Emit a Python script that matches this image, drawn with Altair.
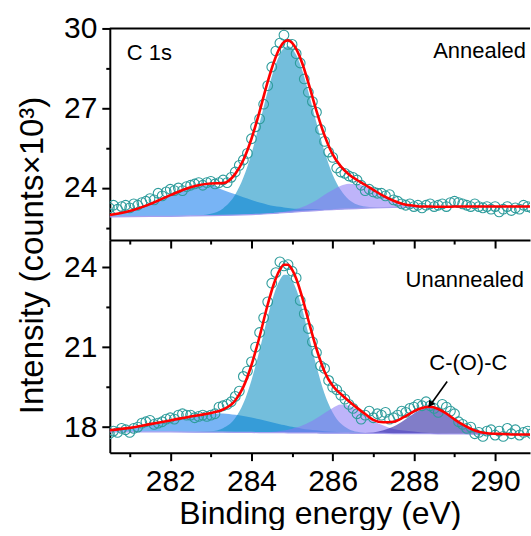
import altair as alt
import pandas as pd

# ---------------- data ----------------
X_GRID = [280.5, 281.0, 281.5, 282.0, 282.5, 283.0, 283.3, 283.6, 283.8, 284.0,
          284.2, 284.4, 284.55, 284.7, 284.8, 284.9, 285.0, 285.1, 285.25, 285.4,
          285.6, 285.8, 286.0, 286.2, 286.4, 286.6, 286.8, 287.0, 287.25, 287.5,
          287.75, 288.0, 288.2, 288.4, 288.6, 288.8, 289.0, 289.25, 289.5, 289.8,
          290.2, 290.6, 291.0]

# Annealed (top panel): background and component heights above background
TOP_BG = [22.91, 22.92, 22.93, 22.93, 22.95, 22.96, 22.97, 22.98, 22.99, 23.00,
          23.01, 23.03, 23.04, 23.06, 23.07, 23.08, 23.09, 23.10, 23.12, 23.13,
          23.15, 23.17, 23.18, 23.20, 23.21, 23.22, 23.24, 23.25, 23.26, 23.27,
          23.27, 23.28, 23.28, 23.29, 23.29, 23.29, 23.30, 23.30, 23.30, 23.30,
          23.30, 23.30, 23.30]
TOP_A = [0.07, 0.21, 0.46, 0.80, 1.08, 1.14, 0.95, 0.78, 0.66, 0.55,
         0.44, 0.34, 0.28, 0.23, 0.195, 0.165, 0.14, 0.12, 0.095, 0.075,
         0.05, 0.03, 0.02, 0.01, 0, 0, 0, 0, 0, 0,
         0, 0, 0, 0, 0, 0, 0, 0, 0, 0,
         0, 0, 0]
TOP_M = [0, 0, 0, 0, 0, 0.07, 0.26, 0.77, 1.40, 2.30,
         3.43, 4.62, 5.40, 5.97, 6.19, 6.25, 6.16, 5.91, 5.31, 4.50,
         3.31, 2.20, 1.32, 0.72, 0.35, 0.16, 0.06, 0.02, 0, 0,
         0, 0, 0, 0, 0, 0, 0, 0, 0, 0,
         0, 0, 0]
TOP_C = [0, 0, 0, 0, 0, 0, 0, 0, 0, 0,
         0, 0.01, 0.01, 0.02, 0.03, 0.05, 0.07, 0.10, 0.16, 0.25,
         0.39, 0.57, 0.74, 0.88, 0.95, 0.92, 0.82, 0.66, 0.44, 0.25,
         0.12, 0.05, 0.02, 0.01, 0, 0, 0, 0, 0, 0,
         0, 0, 0]
TOP_FIT = [22.98, 23.13, 23.39, 23.73, 24.03, 24.17, 24.18, 24.53, 25.05, 25.85,
           26.88, 28.00, 28.73, 29.28, 29.49, 29.55, 29.46, 29.23, 28.69, 27.96,
           26.90, 25.97, 25.26, 24.81, 24.51, 24.30, 24.12, 23.93, 23.70, 23.52,
           23.39, 23.33, 23.30, 23.30, 23.29, 23.29, 23.30, 23.30, 23.30, 23.30,
           23.30, 23.30, 23.30]

# Unannealed (bottom panel)
BOT_BG = [17.82, 17.82, 17.82, 17.82, 17.81, 17.81, 17.81, 17.80, 17.80, 17.80,
          17.79, 17.79, 17.79, 17.79, 17.79, 17.78, 17.78, 17.78, 17.78, 17.78,
          17.78, 17.77, 17.77, 17.77, 17.77, 17.76, 17.76, 17.76, 17.76, 17.75,
          17.75, 17.75, 17.75, 17.75, 17.74, 17.74, 17.74, 17.74, 17.73, 17.73,
          17.73, 17.72, 17.72]
BOT_A = [0.06, 0.15, 0.29, 0.43, 0.59, 0.69, 0.70, 0.66, 0.62, 0.56,
         0.50, 0.43, 0.37, 0.32, 0.29, 0.26, 0.23, 0.20, 0.16, 0.13,
         0.10, 0.07, 0.05, 0.03, 0.02, 0.01, 0.01, 0, 0, 0,
         0, 0, 0, 0, 0, 0, 0, 0, 0, 0,
         0, 0, 0]
BOT_M = [0, 0, 0, 0, 0, 0.03, 0.15, 0.54, 1.09, 1.96,
         3.10, 4.36, 5.18, 5.74, 5.93, 5.93, 5.74, 5.40, 4.65, 3.73,
         2.51, 1.48, 0.78, 0.36, 0.15, 0.06, 0.02, 0, 0, 0,
         0, 0, 0, 0, 0, 0, 0, 0, 0, 0,
         0, 0, 0]
BOT_C = [0, 0, 0, 0, 0, 0, 0, 0, 0, 0.01,
         0.01, 0.02, 0.03, 0.06, 0.08, 0.12, 0.16, 0.20, 0.28, 0.38,
         0.55, 0.76, 0.95, 1.08, 1.03, 0.88, 0.68, 0.47, 0.30, 0.18,
         0.12, 0.08, 0.05, 0.03, 0.02, 0.01, 0, 0, 0, 0,
         0, 0, 0]
BOT_D = [0, 0, 0, 0, 0, 0, 0, 0, 0, 0,
         0, 0, 0, 0, 0, 0, 0, 0, 0, 0,
         0, 0, 0, 0, 0, 0.01, 0.02, 0.04, 0.12, 0.27,
         0.50, 0.76, 0.92, 0.98, 0.92, 0.76, 0.55, 0.31, 0.14, 0.04,
         0.01, 0, 0]
BOT_FIT = [17.88, 17.97, 18.11, 18.25, 18.40, 18.53, 18.66, 19.00, 19.51, 20.33,
           21.40, 22.60, 23.37, 23.91, 24.09, 24.09, 23.91, 23.58, 22.87, 22.02,
           20.94, 20.08, 19.55, 19.24, 18.97, 18.72, 18.49, 18.27, 18.18, 18.20,
           18.37, 18.59, 18.72, 18.76, 18.68, 18.51, 18.29, 18.05, 17.87, 17.77,
           17.74, 17.72, 17.72]

# measured points (open circles)
X_DATA = [280.5, 280.6, 280.7, 280.8, 280.9, 281.0, 281.1, 281.2, 281.3, 281.4,
          281.5, 281.6, 281.7, 281.8, 281.9, 282.0, 282.1, 282.2, 282.3, 282.4,
          282.5, 282.6, 282.7, 282.8, 282.9, 283.0, 283.1, 283.2, 283.3, 283.4,
          283.5, 283.6, 283.7, 283.8, 283.9, 284.0, 284.1, 284.2, 284.3, 284.4,
          284.5, 284.6, 284.7, 284.8, 284.9, 285.0, 285.1, 285.2, 285.3, 285.4,
          285.5, 285.6, 285.7, 285.8, 285.9, 286.0, 286.1, 286.2, 286.3, 286.4,
          286.5, 286.6, 286.7, 286.8, 286.9, 287.0, 287.1, 287.2, 287.3, 287.4,
          287.5, 287.6, 287.7, 287.8, 287.9, 288.0, 288.1, 288.2, 288.3, 288.4,
          288.5, 288.6, 288.7, 288.8, 288.9, 289.0, 289.1, 289.2, 289.3, 289.4,
          289.5, 289.6, 289.7, 289.8, 289.9, 290.0, 290.1, 290.2, 290.3, 290.4,
          290.5, 290.6, 290.7, 290.8, 290.9]
TOP_DATA = [23.25, 23.35, 23.20, 23.30, 23.35, 23.25, 23.40, 23.35, 23.45, 23.50,
            23.60, 23.55, 23.80, 23.70, 23.85, 23.95, 23.90, 24.00, 23.90, 24.05,
            24.10, 24.15, 24.20, 24.10, 24.20, 24.25, 24.15, 24.20, 24.30, 24.20,
            24.40, 24.60, 24.85, 25.05, 25.30, 25.85, 26.30, 26.60, 27.15, 27.85,
            28.55, 29.15, 29.45, 29.75, 29.40, 29.40, 29.05, 28.70, 28.10, 27.60,
            27.25, 26.85, 26.20, 25.75, 25.35, 25.15, 24.75, 24.60, 24.55, 24.45,
            24.40, 24.30, 24.10, 23.90, 23.95, 23.85, 23.80, 23.80, 23.70, 23.75,
            23.55, 23.50, 23.40, 23.35, 23.40, 23.30, 23.35, 23.25, 23.35, 23.40,
            23.30, 23.35, 23.40, 23.30, 23.45, 23.50, 23.45, 23.40, 23.35, 23.30,
            23.40, 23.30, 23.25, 23.30, 23.20, 23.30, 23.10, 23.20, 23.30, 23.15,
            23.25, 23.20, 23.35, 23.30, 23.25]
BOT_DATA = [17.75, 17.85, 17.80, 17.95, 17.90, 17.80, 17.95, 18.00, 18.15, 18.20,
            18.25, 18.10, 18.15, 18.20, 18.30, 18.35, 18.30, 18.45, 18.50, 18.45,
            18.45, 18.35, 18.40, 18.45, 18.40, 18.45, 18.50, 18.75, 18.80, 18.85,
            18.95, 19.15, 19.35, 19.90, 20.10, 20.45, 21.00, 21.55, 22.10, 22.70,
            23.40, 23.80, 24.20, 24.05, 24.10, 23.85, 23.60, 22.75, 22.25, 21.70,
            21.20, 20.80, 20.30, 20.20, 19.75, 19.50, 19.40, 19.20, 19.05, 18.85,
            18.70, 18.50, 18.30, 18.45, 18.60, 18.35, 18.50, 18.45, 18.55, 18.30,
            18.35, 18.45, 18.60, 18.55, 18.70, 18.75, 18.85, 18.80, 18.95, 18.80,
            18.70, 18.55, 18.85, 18.75, 18.60, 18.50, 18.20, 18.10, 17.95, 18.00,
            17.75, 17.80, 17.65, 17.85, 17.90, 17.70, 17.85, 17.65, 17.95, 17.75,
            17.90, 17.70, 17.80, 17.85, 17.75]

TOP_TEXT = ["C 1s", "Annealed"]
TOP_TEXT_X = [280.93, 290.76]
TOP_TEXT_Y = [29.09, 29.16]
BOT_TEXT = ["Unannealed", "C-(O)-C"]
BOT_TEXT_X = [290.71, 289.34]
BOT_TEXT_Y = [23.53, 20.41]
ARROW_X = [288.82, 288.40]
ARROW_Y = [19.71, 18.82]
ARROW_HEAD_X = [288.42]
ARROW_HEAD_Y = [18.88]

X_TICKS = [281, 282, 283, 284, 285, 286, 287, 288, 289, 290]
TOP_Y_TICKS = [22.5, 24, 25.5, 27, 28.5, 30]
BOT_Y_TICKS = [18, 19.5, 21, 22.5, 24]
X_DOMAIN = [280.51, 290.86]
TOP_Y_DOMAIN = [22.04, 30.0]
BOT_Y_DOMAIN = [17.04, 25.02]

# ---------------- styling ----------------
FONT = "Liberation Sans"
W = 421
H_TOP = 212
H_BOT = 213
FILL_OPACITY = 0.55
COL_A = "#0A77ED"
COL_M = "#0089BF"
COL_C = "#8977F6"
COL_D = "#1A129B"
COL_PTS = "#2E9C9C"

X_TICK_SIZE = {"condition": {"test": "datum.value % 2 === 0", "value": 8}, "value": 4}
Y_TICK_SIZE = {"condition": {"test": "datum.value % 3 === 0", "value": 8}, "value": 4}

x_scale = alt.Scale(domain=X_DOMAIN, nice=False, zero=False)

top_x_axis = alt.Axis(values=X_TICKS, labels=False, title=None, tickSize=X_TICK_SIZE)
bot_x_axis = alt.Axis(values=X_TICKS, labelExpr="datum.value % 2 === 0 ? datum.label : ''",
                      tickSize=X_TICK_SIZE, title="Binding energy (eV)", labelFlush=False,
                      labelPadding=6, titlePadding=2)
top_y_axis = alt.Axis(values=TOP_Y_TICKS, labelExpr="datum.value % 3 === 0 ? datum.label : ''",
                      tickSize=Y_TICK_SIZE, labelPadding=5,
                      title="Intensity (counts×10³)", titleX=-67, titleY=227, titleAngle=270,
                      titleAlign="center", titleBaseline="alphabetic", titleFontSize=33)
bot_y_axis = alt.Axis(values=BOT_Y_TICKS, labelExpr="datum.value % 3 === 0 ? datum.label : ''",
                      tickSize=Y_TICK_SIZE, labelPadding=5, title=None)


def panel(bg, comps, fit, pts, texts, ydomain, xaxis, yaxis, height, extra=None):
    y_scale = alt.Scale(domain=ydomain, nice=False, zero=False)

    def X(field):
        return alt.X(field, type="quantitative", scale=x_scale, axis=xaxis)

    def Y(field):
        return alt.Y(field, type="quantitative", scale=y_scale, axis=yaxis)

    layers = []
    for h, col in comps:
        df = pd.DataFrame({"x": X_GRID, "base": bg, "top": [b + v for b, v in zip(bg, h)]})
        layers.append(
            alt.Chart(df).mark_area(color=col, interpolate="monotone",
                                    opacity=FILL_OPACITY, clip=True)
            .encode(x=X("x"), y=Y("top"), y2="base")
        )
    bgdf = pd.DataFrame({"x": X_GRID, "y": bg})
    layers.append(alt.Chart(bgdf).mark_line(color="#A79FEF", strokeWidth=1.2, clip=True)
                  .encode(x=X("x"), y=Y("y")))
    ptdf = pd.DataFrame({"x": X_DATA, "y": pts})
    layers.append(alt.Chart(ptdf).mark_point(shape="circle", filled=False, size=95,
                                             strokeWidth=1.1, color=COL_PTS, opacity=1, clip=True)
                  .encode(x=X("x"), y=Y("y")))
    fitdf = pd.DataFrame({"x": X_GRID, "y": fit})
    layers.append(alt.Chart(fitdf).mark_line(color="#FF0000", strokeWidth=2.6,
                                             interpolate="monotone", clip=True)
                  .encode(x=X("x"), y=Y("y")))
    for label, tx, ty, align in texts:
        tdf = pd.DataFrame({"x": [tx], "y": [ty], "t": [label]})
        layers.append(alt.Chart(tdf).mark_text(align=align, baseline="middle", font=FONT,
                                               fontSize=22, color="black")
                      .encode(x=X("x"), y=Y("y"), text="t:N"))
    if extra is not None:
        layers.extend(extra(X, Y))
    return alt.layer(*layers).properties(width=W, height=height)


def top_border(X, Y):
    return [alt.Chart(pd.DataFrame({"k": [0]})).mark_rule(color="black", strokeWidth=2)
            .encode(x=alt.value(0), x2=alt.value(W), y=alt.value(0))]


def arrow(X, Y):
    adf = pd.DataFrame({"x": ARROW_X, "y": ARROW_Y})
    hdf = pd.DataFrame({"x": ARROW_HEAD_X, "y": ARROW_HEAD_Y})
    return [
        alt.Chart(adf).mark_line(color="black", strokeWidth=1.6).encode(x=X("x"), y=Y("y")),
        alt.Chart(hdf).mark_point(shape="triangle", filled=True, color="black", size=55,
                                  angle=216, opacity=1).encode(x=X("x"), y=Y("y")),
    ]


top = panel(TOP_BG, [(TOP_A, COL_A), (TOP_M, COL_M), (TOP_C, COL_C)], TOP_FIT, TOP_DATA,
            [(TOP_TEXT[0], TOP_TEXT_X[0], TOP_TEXT_Y[0], "left"),
             (TOP_TEXT[1], TOP_TEXT_X[1], TOP_TEXT_Y[1], "right")],
            TOP_Y_DOMAIN, top_x_axis, top_y_axis, H_TOP, extra=top_border)

bottom = panel(BOT_BG, [(BOT_A, COL_A), (BOT_M, COL_M), (BOT_C, COL_C), (BOT_D, COL_D)],
               BOT_FIT, BOT_DATA,
               [(BOT_TEXT[0], BOT_TEXT_X[0], BOT_TEXT_Y[0], "right"),
                (BOT_TEXT[1], BOT_TEXT_X[1], BOT_TEXT_Y[1], "center")],
               BOT_Y_DOMAIN, bot_x_axis, bot_y_axis, H_BOT, extra=arrow)

chart = (
    alt.vconcat(top, bottom, spacing=0, bounds="flush")
    .properties(padding={"left": 16, "top": 13, "right": 0, "bottom": 0}, background="white")
    .configure_view(stroke=None)
    .configure_axis(
        grid=False, domainColor="black", domainWidth=2, tickColor="black", tickWidth=2,
        labelColor="black", labelFont=FONT, labelFontSize=30, titleFont=FONT,
        titleFontSize=32, titleFontWeight="normal", titleColor="black", labelOverlap=False,
    )
)

chart.save("out.html", embed_options={"renderer": "svg", "actions": False})
